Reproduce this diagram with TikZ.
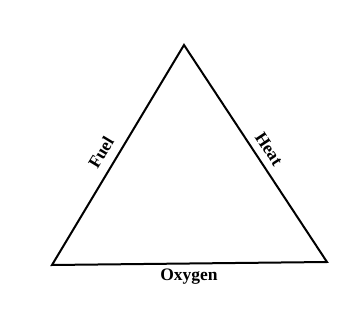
\documentclass[tikz,border=0pt]{standalone}
\usepackage{fontspec}
\setmainfont{Liberation Serif}
\begin{document}
\begin{tikzpicture}[x=1pt,y=-1pt,
  edge/.style={line width=2pt, line join=miter},
  lbl/.style={font=\bfseries\fontsize{17.5}{20}\selectfont, inner sep=0pt}]
\useasboundingbox (0,0) rectangle (343,326);
\coordinate (top) at (184,45);
\coordinate (bl) at (52,265);
\coordinate (br) at (327,262);
\draw[edge] (top) -- (bl) -- (br) -- cycle;
\node[lbl, rotate=59] (fuel) at (101,152.5) {Fuel};
\node[lbl, rotate=-56.6] (heat) at (269,149) {Heat};
\node[lbl] (oxy) at (189,277) {Oxygen};
\end{tikzpicture}
\end{document}
